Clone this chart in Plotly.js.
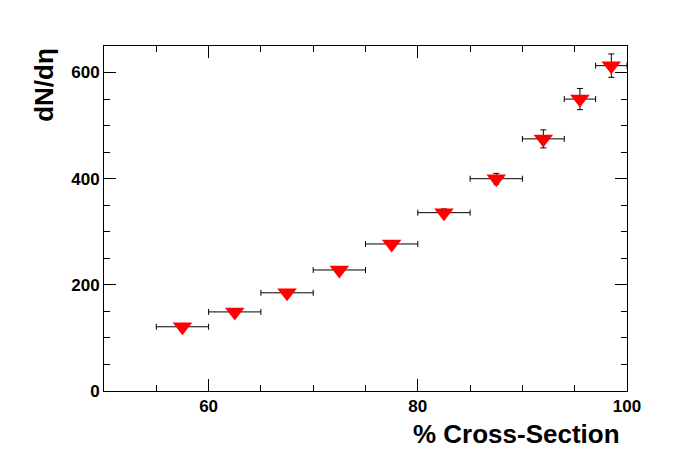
<!DOCTYPE html>
<html><head><script src="https://cdn.plot.ly/plotly-3.0.1.min.js"></script></head>
<body style="margin:0">
<div id="c" style="width:696px;height:472px"></div>
<script>
const xCenters=[57.5,62.5,67.5,72.5,77.5,82.5,87.5,92,95.5,98.5];
const xHalfWidth=[2.5,2.5,2.5,2.5,2.5,2.5,2.5,2,1.5,1.5];
const dNdEta=[121,149,185,228,277,336,400,475,550,613];
const yErr=[4,4,5,5,6,7,10,17,20,22];
Plotly.newPlot('c',[{
 x:xCenters,y:dNdEta,type:'scatter',mode:'markers',
 marker:{symbol:'triangle-down',color:'#ff0000',size:17},
 error_x:{type:'data',array:xHalfWidth,color:'#000',thickness:1,width:3},
 error_y:{type:'data',array:yErr,color:'#000',thickness:1,width:3}
}],{
 width:696,height:472,paper_bgcolor:'#fff',plot_bgcolor:'#fff',showlegend:false,
 margin:{l:104,r:69,t:46,b:81},
 font:{family:'Liberation Sans, Arial',size:17,color:'#000'},
 xaxis:{range:[50,100],tickvals:[60,80,100],showgrid:false,zeroline:false,mirror:'ticks',showline:true,linecolor:'#000',linewidth:1,ticks:'inside',ticklen:12,tickcolor:'#000',
  minor:{dtick:5,ticks:'inside',ticklen:6,tickcolor:'#000'},tickfont:{size:17,family:'Liberation Sans, Arial',weight:'bold'}},
 yaxis:{range:[0,650],tickvals:[0,200,400,600],showgrid:false,zeroline:false,mirror:'ticks',showline:true,linecolor:'#000',linewidth:1,ticks:'inside',ticklen:12,tickcolor:'#000',
  minor:{dtick:50,ticks:'inside',ticklen:6,tickcolor:'#000'},tickfont:{size:17,family:'Liberation Sans, Arial',weight:'bold'}},
 annotations:[
  {text:'<b>% Cross-Section</b>',xref:'paper',yref:'paper',x:0.99,y:-0.075,xanchor:'right',yanchor:'top',showarrow:false,font:{size:26}},
  {text:'<b>dN/dη</b>',xref:'paper',yref:'paper',x:-0.115,y:1,xanchor:'center',yanchor:'top',textangle:-90,showarrow:false,font:{size:26}}
 ]
},{displayModeBar:false});
</script></body></html>
